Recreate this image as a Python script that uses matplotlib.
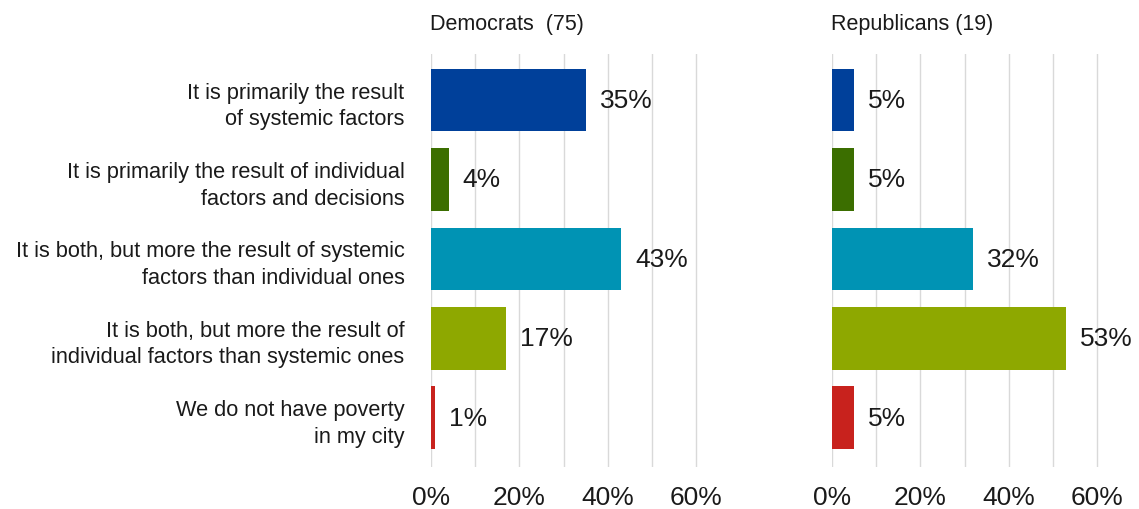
import matplotlib.pyplot as plt
import numpy as np

plt.rcParams['font.family'] = ['Liberation Sans', 'DejaVu Sans']

# Survey answers
categories = [
    "It is primarily the result\nof systemic factors",
    "It is primarily the result of individual\nfactors and decisions",
    "It is both, but more the result of systemic\nfactors than individual ones",
    "It is both, but more the result of\nindividual factors than systemic ones",
    "We do not have poverty\nin my city",
]
dem_values = [35, 4, 43, 17, 1]
rep_values = [5, 5, 32, 53, 5]
panel_titles = ["Democrats  (75)", "Republicans (19)"]
bar_colors = ["#00409a", "#3b6e00", "#0093b4", "#8ea800", "#c8221d"]

tick_values = [0, 20, 40, 60]
grid_values = [0, 10, 20, 30, 40, 50, 60]

fig = plt.figure(figsize=(11.39, 5.10), dpi=100)

ax_w = 0.68 * 442 / 1139
ax_bottom = 1 - 468 / 510
ax_h = (468 - 55) / 510
ax_dem = fig.add_axes([431 / 1139, ax_bottom, ax_w, ax_h])
ax_rep = fig.add_axes([832 / 1139, ax_bottom, ax_w, ax_h])

y = np.arange(len(categories))

for ax, vals, title in [(ax_dem, dem_values, panel_titles[0]),
                        (ax_rep, rep_values, panel_titles[1])]:
    fracs = np.array(vals) / 100
    for g in grid_values:
        ax.axvline(g / 100, color="#d9d9d9", lw=1, zorder=0)
    ax.barh(y, fracs, height=0.79, color=bar_colors, zorder=2)
    for yi, f, v in zip(y, fracs, vals):
        ax.annotate(f"{v}%", (f, yi), xytext=(10, 0), textcoords="offset points",
                    va="center", ha="left", fontsize=19, color="#1a1a1a")
    ax.set_xlim(0, 0.68)
    ax.set_ylim(4.62, -0.58)
    ax.set_xticks([t / 100 for t in tick_values])
    ax.set_xticklabels([f"{t}%" for t in tick_values], fontsize=19, color="#1a1a1a")
    ax.tick_params(axis="x", length=0, pad=13)
    for s in ax.spines.values():
        s.set_visible(False)
    ax.set_title(title, loc="left", fontsize=15.5, pad=18, color="#1a1a1a", x=-0.003)

ax_dem.set_yticks(y)
ax_dem.set_yticklabels(categories, fontsize=15.7, linespacing=1.35, color="#1a1a1a")
ax_dem.tick_params(axis="y", length=0, pad=19)
ax_rep.set_yticks([])

fig.savefig("out.png", dpi=100)
